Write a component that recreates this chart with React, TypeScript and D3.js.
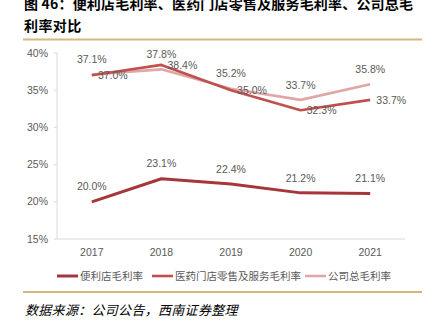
import React from "react";
import * as d3 from "d3";

const years = ["2017", "2018", "2019", "2020", "2021"];
const convenience = [20.0, 23.1, 22.4, 21.2, 21.1];
const pharmacy = [37.0, 38.4, 35.0, 32.3, 33.7];
const total = [37.1, 37.8, 35.2, 33.7, 35.8];
const yTicks = [15, 20, 25, 30, 35, 40];
const seriesNames = ["便利店毛利率", "医药门店零售及服务毛利率", "公司总毛利率"];

const W = 435;
const H = 327;
const left = 57;
const right = 405;
const top = 53;
const bottom = 239;

export default function App() {
  const x = d3.scaleBand<string>().domain(years).range([left, right]);
  const cx = (y: string) => (x(y) as number) + x.bandwidth() / 2;
  const y = d3.scaleLinear().domain([15, 40]).range([bottom, top]);
  const line = d3
    .line<number>()
    .x((_, i) => cx(years[i]))
    .y((d) => y(d));

  const series = [
    { name: seriesNames[0], data: convenience, color: "#a5373a", width: 3, pos: "above" },
    { name: seriesNames[1], data: pharmacy, color: "#c0504d", width: 2.6, pos: "right" },
    { name: seriesNames[2], data: total, color: "#dfa7a6", width: 2.6, pos: "above" },
  ];
  const drawOrder = [series[2], series[1], series[0]];
  const labelFont = "'Liberation Sans', Arial, sans-serif";
  const cjk = "'Noto Sans CJK SC', sans-serif";
  const legendX = [57, 152, 305];

  return (
    <svg width={W} height={H} style={{ position: "absolute", left: 0, top: 0, background: "#fff" }}>
      <text x={24} y={9} fontFamily={cjk} fontWeight="bold" fontSize={14} fill="#000" textLength={389} lengthAdjust="spacing">
        图 46：便利店毛利率、医药门店零售及服务毛利率、公司总毛
      </text>
      <text x={24} y={31} fontFamily={cjk} fontWeight="bold" fontSize={14} fill="#000" letterSpacing={0.4}>
        利率对比
      </text>
      <line x1={23} x2={422} y1={39.5} y2={39.5} stroke="#d8b67c" strokeWidth={2} />

      {/* y axis */}
      <line x1={left} x2={left} y1={top} y2={bottom} stroke="#d9d9d9" strokeWidth={1} />
      {yTicks.map((t) => (
        <g key={t}>
          <line x1={left - 3} x2={left} y1={y(t)} y2={y(t)} stroke="#d9d9d9" />
          <text x={48} y={y(t)} dy="0.35em" textAnchor="end" fontFamily={labelFont} fontSize={10.5} fill="#595959">
            {t}%
          </text>
        </g>
      ))}
      {/* x axis */}
      <line x1={left} x2={right} y1={bottom} y2={bottom} stroke="#d9d9d9" strokeWidth={1} />
      {years.map((yr) => (
        <text key={yr} x={cx(yr)} y={252} dy="0.35em" textAnchor="middle" fontFamily={labelFont} fontSize={10.5} fill="#595959">
          {yr}
        </text>
      ))}

      {drawOrder.map((s) => (
        <path key={s.name} d={line(s.data) || ""} fill="none" stroke={s.color} strokeWidth={s.width} strokeLinejoin="round" />
      ))}

      {series.map((s) =>
        s.data.map((v, i) => {
          const px = cx(years[i]);
          const py = y(v);
          const lx = s.pos === "right" ? px + 21 : px;
          const ly = s.pos === "right" ? py + 0.5 : py - 15;
          return (
            <text
              key={s.name + i}
              x={lx}
              y={ly}
              dy="0.35em"
              textAnchor="middle"
              fontFamily={labelFont}
              fontSize={10.5}
              fill="#595959"
            >
              {v.toFixed(1)}%
            </text>
          );
        })
      )}

      {/* legend */}
      {series.map((s, i) => (
        <g key={s.name}>
          <line x1={legendX[i]} x2={legendX[i] + 21} y1={276} y2={276} stroke={s.color} strokeWidth={s.width} />
          <text x={legendX[i] + 23} y={276} dy="0.35em" fontFamily={cjk} fontSize={10.5} fill="#595959">
            {s.name}
          </text>
        </g>
      ))}

      <line x1={23} x2={422} y1={292} y2={292} stroke="#d8b67c" strokeWidth={2} />
      <text x={25} y={310} dy="0.35em" fontFamily={cjk} fontStyle="italic" fontSize={13} fill="#000" letterSpacing={0.3}>
        数据来源：公司公告，西南证券整理
      </text>
    </svg>
  );
}
